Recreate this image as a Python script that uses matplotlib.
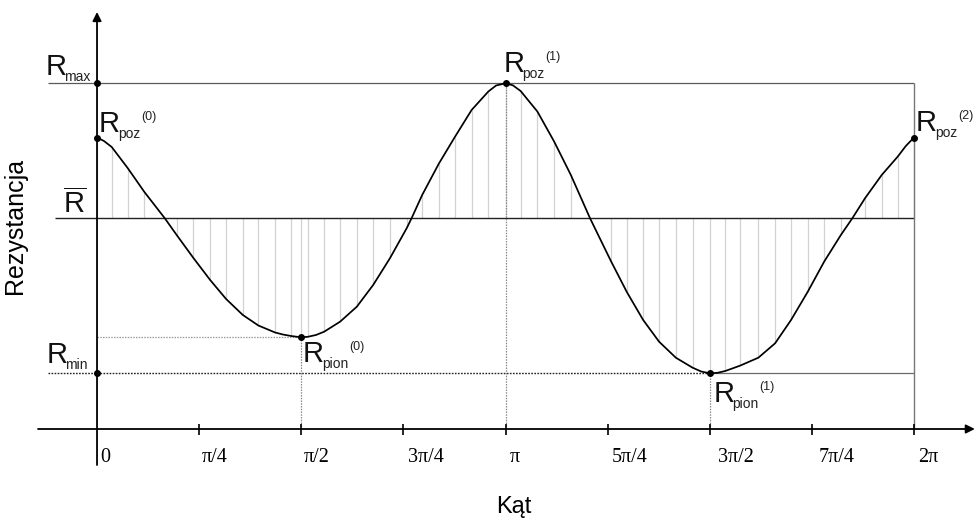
import numpy as np
import matplotlib
matplotlib.use("Agg")
import matplotlib.pyplot as plt

plt.rcParams["font.family"] = ["Liberation Sans", "DejaVu Sans"]
plt.rcParams["mathtext.fontset"] = "custom"
plt.rcParams["mathtext.rm"] = "Liberation Sans"
plt.rcParams["mathtext.it"] = "Liberation Sans:italic"

# angle in units of pi, resistance in arbitrary units
# these are the points where the hatch lines stand
theta_pi = [0, 0.036, 0.075, 0.116, 0.166, 0.195, 0.236, 0.277, 0.316, 0.357,
            0.395, 0.436, 0.475, 0.5, 0.516, 0.556, 0.595, 0.636, 0.676, 0.717,
            0.758, 0.770, 0.796, 0.837, 0.876, 0.917, 0.958, 1.0, 1.037, 1.078,
            1.119, 1.160, 1.207, 1.258, 1.297, 1.337, 1.376, 1.417, 1.458, 1.5,
            1.538, 1.574, 1.619, 1.660, 1.699, 1.740, 1.780, 1.821, 1.849, 1.880,
            1.921, 1.960, 2.0]
resist = [2.915, 2.82, 2.61, 2.37, 2.107, 1.94, 1.71, 1.49, 1.30, 1.14,
          1.035, 0.965, 0.93, 0.917, 0.922, 0.973, 1.073, 1.223, 1.44, 1.707,
          2.007, 2.107, 2.34, 2.655, 2.92, 3.19, 3.375, 3.457, 3.38, 3.175,
          2.875, 2.54, 2.107, 1.68, 1.37, 1.09, 0.873, 0.713, 0.613, 0.557,
          0.58, 0.633, 0.713, 0.857, 1.09, 1.373, 1.673, 1.94, 2.107, 2.307,
          2.54, 2.723, 2.915]
# a few more curve readings near the turning points (no hatch there)
extra_pi = [0.017, 0.455, 0.536, 0.977, 1.018, 1.479, 1.519, 1.980]
extra_r = [2.88, 0.945, 0.94, 3.435, 3.437, 0.575, 0.562, 2.83]

R_MAX = 3.457
R_MIN = 0.557
R_BAR = 2.107
R_POZ0 = 2.915
R_POZ2 = 2.915
R_PION0 = 0.917

tick_pos = [0, 0.25, 0.5, 0.75, 1.0, 1.25, 1.5, 1.75, 2.0]
tick_labels = ["0", "π/4", "π/2", "3π/4", "π", "5π/4", "3π/2", "7π/4", "2π"]
tick_dx = [2, 2, 1.5, 3, 3, 3, 6, 5, 3]  # label shift right of tick, points

PI = np.pi
th = np.array(theta_pi) * PI
r = np.array(resist)
curve = pd_sorted = sorted(zip(theta_pi + extra_pi, resist + extra_r))
cth = np.array([c[0] for c in curve]) * PI
cr = np.array([c[1] for c in curve])

fig = plt.figure(figsize=(9.76, 5.22), dpi=100)
ax = fig.add_axes([0, 0, 1, 1])
ax.set_xlim(-0.2375 * PI, 2.1518 * PI)
ax.set_ylim(-0.93, 4.29)
ax.axis("off")

# hatching between curve and mean
ax.vlines(th, R_BAR, r, color="#d2d2d2", lw=0.9, zorder=1)

# reference lines
ax.hlines(R_MAX, -0.121 * PI, 2 * PI, color="#5a5a5a", lw=0.9, zorder=2)
ax.hlines(R_BAR, -0.103 * PI, 2 * PI, color="#222222", lw=1.0, zorder=2)
ax.hlines(R_MIN, -0.119 * PI, 1.5 * PI, color="#222222", lw=1.0,
          linestyles=(0, (1.2, 1.0)), zorder=2)
ax.hlines(R_MIN, 1.5 * PI, 2 * PI, color="#6a6a6a", lw=0.9, zorder=2)
ax.hlines(R_PION0, 0, 0.5 * PI, color="#9a9a9a", lw=0.9,
          linestyles=(0, (1.2, 1.0)), zorder=2)
ax.vlines([0.5 * PI, PI, 1.5 * PI], 0, [R_PION0, R_MAX, R_MIN], color="#8a8a8a",
          lw=0.9, linestyles=(0, (1.2, 1.0)), zorder=2)
ax.vlines(2 * PI, 0, R_MAX, color="#777777", lw=1.0, zorder=2)

# the curve
ax.plot(cth, cr, color="black", lw=1.25, zorder=4, solid_joinstyle="round")

# axes with arrows
arrow = dict(arrowstyle="-|>", color="black", lw=1.3, shrinkA=0, shrinkB=0,
             mutation_scale=13)
ax.annotate("", xy=(0, 4.17), xytext=(0, -0.36), arrowprops=arrow, zorder=5)
ax.annotate("", xy=(2.149 * PI, 0), xytext=(-0.1444 * PI, 0), arrowprops=arrow, zorder=5)
ticks = np.array(tick_pos[1:]) * PI
ax.vlines(ticks, -0.06, 0.05, color="black", lw=1.2, zorder=5)
for p, lab, dx in zip(tick_pos, tick_labels, tick_dx):
    ax.annotate(lab, xy=(p * PI, 0), xytext=(dx, -24), textcoords="offset points",
                ha="left", va="baseline", fontsize=14.5, family="Liberation Serif")

# points
px = [0, 0, 0, 0.5 * PI, PI, 1.5 * PI, 2 * PI]
py = [R_MAX, R_POZ0, R_MIN, R_PION0, R_MAX, R_MIN, R_POZ2]
ax.plot(px, py, "o", color="black", ms=4, zorder=6)


def rlabel(x, y, sub, sup, dx, dy):
    main = ax.annotate("R", xy=(x, y), xytext=(dx, dy), textcoords="offset points",
                       fontsize=21, ha="left", va="baseline", color="#111111")
    s = ax.annotate(sub, xy=(1, 0), xycoords=main, xytext=(-1.5, 0),
                    textcoords="offset points", fontsize=10, ha="left",
                    va="baseline", color="#222222")
    if sup:
        ax.annotate(sup, xy=(1, 0), xycoords=s, xytext=(0.7, 15),
                    textcoords="offset points", fontsize=9, ha="left",
                    va="baseline", color="#222222")


rlabel(0, R_MAX, "max", None, -37, 6)
rlabel(0, R_MIN, "min", None, -36.6, 7.2)
rlabel(0, R_POZ0, "poz", "(0)", 1.3, 4)
rlabel(PI, R_MAX, "poz", "(1)", -1.6, 8.4)
rlabel(2 * PI, R_POZ2, "poz", "(2)", 1.3, 5)
rlabel(0.5 * PI, R_PION0, "pion", "(0)", 1.1, -17.6)
rlabel(1.5 * PI, R_MIN, "pion", "(1)", 2.7, -20.4)
ax.annotate(r"$\overline{\mathrm{R}}$", xy=(0, R_BAR), xytext=(-24.6, 3.8),
            textcoords="offset points", fontsize=21, ha="left", va="baseline",
            color="#111111")

fig.text(514 / 976, 1 - 513.3 / 522, "Kąt", fontsize=17, ha="center", va="baseline")
fig.text(15 / 976, 1 - 226 / 522, "Rezystancja", fontsize=18, rotation=90,
         ha="center", va="center")

fig.savefig("out.png", dpi=100)
